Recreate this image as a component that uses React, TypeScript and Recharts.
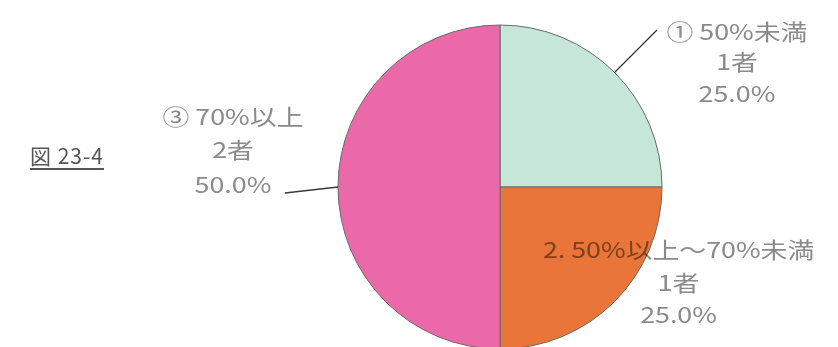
import React from 'react';
import { PieChart, Pie, Cell } from 'recharts';

// 回答区分
const categories = ['① 50%未満', '2. 50%以上～70%未満', '③ 70%以上'];
const counts = [1, 1, 2];
const countLabels = ['1者', '1者', '2者'];
const percentLabels = ['25.0%', '25.0%', '50.0%'];
const colors = ['#c6e7d7', '#ea7538', '#eb69a9'];

const data = categories.map((name, i) => ({
  name,
  value: counts[i],
  count: countLabels[i],
  pct: percentLabels[i],
}));

const RAD = Math.PI / 180;
const TEXT = '#8a8a8a';

// label block offsets (from the leader-line end) per slice
const layout = [
  { lead: 60, bend: [0, 0], dx: 80, dy: 10, lines: [0, 30, 62] },
  { lead: 0, bend: [0, 0], dx: 64, dy: -44, lines: [0, 33, 65] },
  { lead: 53, bend: [0, 6], dx: -52, dy: -68, lines: [0, 33, 68] },
];

const renderLabel = (props: any) => {
  const { cx, cy, midAngle, outerRadius, index, payload } = props;
  const l = layout[index];
  const cos = Math.cos(-midAngle * RAD);
  const sin = Math.sin(-midAngle * RAD);
  const sx = cx + outerRadius * cos;
  const sy = cy + outerRadius * sin;
  const ex = cx + (outerRadius + l.lead) * cos + l.bend[0];
  const ey = cy + (outerRadius + l.lead) * sin + l.bend[1];
  const tx = ex + l.dx;
  const ty = ey + l.dy;
  const rows = [payload.name, payload.count, payload.pct];
  return (
    <g>
      {l.lead > 0 && (
        <line x1={sx} y1={sy} x2={ex} y2={ey} stroke="#3a3a3a" strokeWidth={1.3} />
      )}
      {rows.map((r, k) => (
        <text
          key={k}
          transform={`translate(${tx},${ty + l.lines[k]}) scale(1.22,1)`}
          x={0}
          y={0}
          textAnchor="middle"
          fill={TEXT}
          fontSize={22}
          fontFamily="'Noto Sans CJK JP', 'Noto Sans', sans-serif"
          style={{ mixBlendMode: 'multiply' }}
        >
          {r}
        </text>
      ))}
    </g>
  );
};

export default function App() {
  return (
    <div style={{ position: 'absolute', left: 0, top: 0, width: 838, height: 347, background: '#fff' }}>
      <div
        style={{
          position: 'absolute',
          left: 30,
          top: 140,
          fontSize: 21,
          color: '#555',
          fontFamily: "'Noto Sans CJK JP', sans-serif",
          textDecoration: 'underline',
          textUnderlineOffset: 4,
          letterSpacing: 1,
        }}
      >
        図 23-4
      </div>
      <PieChart width={838} height={347} margin={{ top: 0, right: 0, bottom: 0, left: 0 }}>
        <Pie
          data={data}
          dataKey="value"
          cx={500}
          cy={187}
          outerRadius={162}
          startAngle={90}
          endAngle={-270}
          stroke="#6a6a6a"
          strokeWidth={1}
          label={renderLabel}
          labelLine={false}
          isAnimationActive={false}
        >
          {data.map((d, i) => (
            <Cell key={d.name} fill={colors[i]} />
          ))}
        </Pie>
      </PieChart>
    </div>
  );
}
